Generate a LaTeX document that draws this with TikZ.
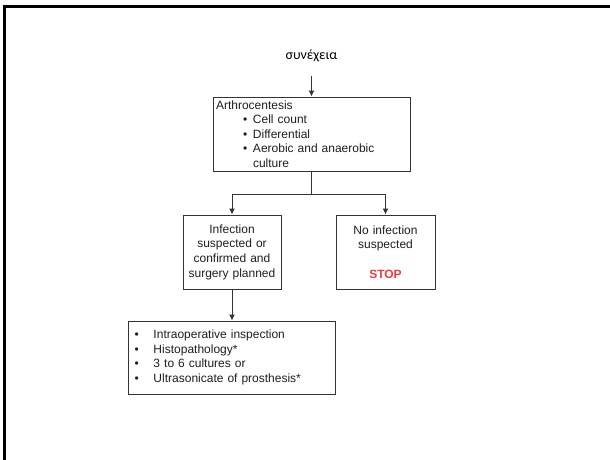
\documentclass[tikz,border=0pt]{standalone}
\usepackage{fontspec}
\setmainfont{Liberation Sans}
\newfontfamily\greekfont{Carlito}
\usetikzlibrary{shapes,arrows,arrows.meta,positioning,calc}
\definecolor{boxgray}{HTML}{333333}
\definecolor{textgray}{HTML}{1E1E1E}
\definecolor{stopred}{HTML}{F23A3A}
\tikzstyle{process} = [rectangle, minimum height=74pt, inner xsep=3pt, inner ysep=1pt, draw=boxgray, line width=1pt, text=textgray, font=\fontsize{12}{14.6}\selectfont]
\tikzstyle{decision} = [process, text width=92pt, align=center]
\tikzstyle{listbox} = [process, inner xsep=6pt, text width=195pt, align=left, minimum height=73pt]
\tikzstyle{arrow} = [line width=1pt, draw=boxgray, -{Latex[length=6pt,width=6pt]}]
\newcommand{\itembullet}{\makebox[37pt][r]{\textbullet\hspace{5.8pt}}}
\begin{document}
\begin{tikzpicture}[x=1pt, y=1pt]
        % Moldura
        \useasboundingbox (0,0) rectangle (610,-459);
        \draw [line width=2.2pt, black] (4.5,-460) -- (4.5,-6.5) -- (611,-6.5);

        % Blocos
        \node (arthro) [process, text width=191pt, align=left] at (311.5,-134) {Arthrocentesis\\
            \itembullet Cell count\\
            \itembullet Differential\\
            \itembullet Aerobic and anaerobic\\
            \hspace*{37pt}culture};
        \node (cont) [above=34pt of arthro, inner sep=0pt, font=\greekfont\fontsize{14}{16}\selectfont] {συνέχεια};
        \node (infect) [decision, below=43pt of arthro, xshift=-79.5pt] {Infection\\suspected or\\confirmed and\\surgery planned};
        \node (noinf) [decision, text width=93pt, below=43pt of arthro, xshift=74pt] {No infection\\suspected\\[14.6pt]\textcolor{stopred}{\textbf{STOP}}};
        \node (tests) [listbox, below=31pt of infect] {\makebox[19pt][l]{\textbullet}Intraoperative inspection\\
            \makebox[19pt][l]{\textbullet}Histopathology*\\
            \makebox[19pt][l]{\textbullet}3 to 6 cultures or\\
            \makebox[19pt][l]{\textbullet}Ultrasonicate of prosthesis*};

        % Linhas
        \draw [arrow, shorten <=13pt] (cont) -- (arthro);
        \draw [arrow] (arthro.south) -- ++(0,-23) -| (infect.north);
        \draw [arrow] (arthro.south) -- ++(0,-23) -| (noinf.north);
        \draw [arrow] (infect) -- (tests);
    \end{tikzpicture}
\end{document}
